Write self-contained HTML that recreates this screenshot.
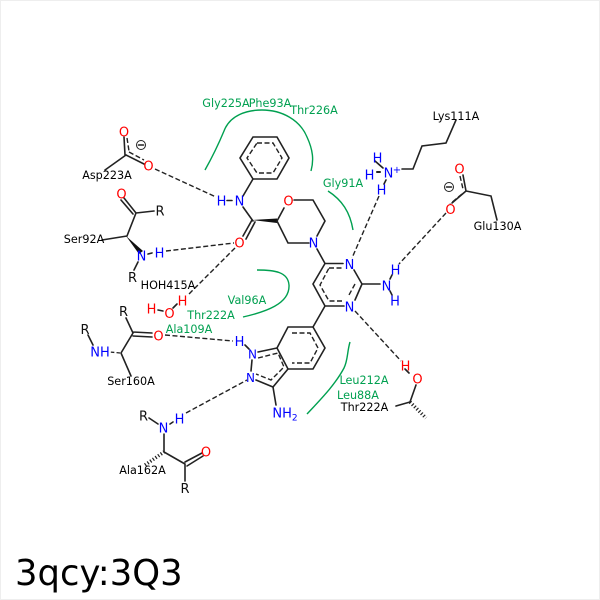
<!DOCTYPE html>
<html><head><meta charset="utf-8"><style>
html,body{margin:0;padding:0;background:#fff}
svg{display:block}
text{font-family:"DejaVu Sans",sans-serif;font-size:11.2px;text-anchor:middle}
.k{fill:#000}.g{fill:#00a050}.b{fill:#00f;font-size:13px}.r{fill:#f00;font-size:13px}.bl{fill:#111;font-size:13px}
.l{stroke:#222;stroke-width:1.6;fill:none;stroke-linecap:round}
.a{stroke:#222;stroke-width:1.4;fill:none;stroke-dasharray:5 2.5}
.h{stroke:#222;stroke-width:1.3;fill:none;stroke-dasharray:3.5 2.2}
.gr{stroke:#00a050;stroke-width:1.4;fill:none}
</style></head><body>
<svg width="600" height="600" viewBox="0 0 600 600" xmlns="http://www.w3.org/2000/svg">
<rect x="0.5" y="0.5" width="599" height="599" fill="#fff" stroke="#eee"/>

<!-- green arcs -->
<path class="gr" d="M205 170C214 154 219 143 224 131C230 115 247 110 262 110C282 110 300 120 307 137C313 150 314 160 311 171"/>
<path class="gr" d="M328 191C342 200 350 212 353 230"/>
<path class="gr" d="M257 270C275 270 288 272 289 285C290 304 265 312 243 317"/>
<path class="gr" d="M350 342C347 352 348 360 344 368C335 385 320 400 307 414"/>

<!-- phenyl -->
<path class="l" d="M253 137H277L289 158L277 179H253L240 158Z"/>
<path class="a" d="M257 143H273L282 158L273 173H257L247 158Z"/>
<path class="l" d="M253 179L243 196"/>
<path class="l" d="M243 207L253 221"/>
<path d="M252 220L277 218.500V223Z" fill="#111"/>
<path class="l" d="M252 220L243 236M255 222L246 239"/>
<!-- morpholine -->
<path class="l" d="M277 221L284 208M294 200H313L325 221L317 236M309 243H288L277 221"/>
<!-- pyrimidine -->
<path class="l" d="M317 249L325 263.500H343M354 270L362 284L355 300M344 306H325L313 284L325 263.500M325 306L313 327M362 284H380"/>
<path class="a" d="M329 268H344M355 284L349 295M342 301H329L320 285L329 268"/>
<!-- NH2 bonds -->
<path class="l" d="M390 279L392 275M390 291L392 295"/>
<!-- indazole benzene -->
<path class="l" d="M288 327H313L325 348L313 369H288L277 348Z"/>
<path class="a" d="M292 333H310L318 348L310 363H292"/>
<path class="l" d="M277 348L258 352M288 369L273 387L256 380M252 360L251 371"/>
<path class="a" d="M258 358L278 353L284 367L271 380L256 374"/>
<path class="l" d="M273 387L276 405M245 345L249 349"/>
<!-- Asp -->
<path class="l" d="M105 170L126 155M126 155L144 164"/>
<path class="a" d="M127 138L129 151M129 152L144 160"/>
<path class="l" d="M124 137L125 155"/>
<!-- Ser92 -->
<path class="l" d="M124 198L136 213M121 200L133 214M136 213L154 211M136 213L127 236M102 240L127 236M138 262L134 270"/>
<path d="M126 236L143 251L139 254Z" fill="#111"/>
<!-- Water -->
<path class="l" d="M158 310L163 311M173 308L177 304"/>
<!-- Ser160 -->
<path class="l" d="M126 318L133 333L121 353L131 376M133 332L152 333M133 336L152 337M88 335L93 345"/>
<path class="h" d="M120 353L110 352"/>
<!-- Ala162 -->
<path class="l" d="M149 418L158 424M164 434V452L185 464M185 464V481M185 462L202 453M187 466L203 456M170 424L173 422"/>
<!-- Lys -->
<path class="l" d="M402 169H413L422 146L446 143L456 120M375 161L383 168M386 180L384 184"/>
<path class="l" d="M377 172L380 172" style="stroke-width:2"/>
<!-- Glu -->
<path class="l" d="M463 175L466 191L491 196L497 220M466 191L452 203"/>
<path class="a" d="M460 176L463 189M462 194L450 204"/>
<!-- Thr -->
<path class="l" d="M396 406L410 402L416 385M409 373L405 369"/>
<path class="h" d="M410 402L426 418" style="stroke-width:3.500;stroke-dasharray:1.200 2"/>
<path class="l" d="M227 200.500H232"/>
<path class="l" d="M152 253L148 254"/>
<path class="h" d="M145 465L164 452" style="stroke-width:3.500;stroke-dasharray:1.200 2"/>

<!-- H-bonds -->
<path class="a" d="M155 169L216 197"/>
<path class="a" d="M166 251L234 243"/>
<path class="a" d="M235 248L188 295"/>
<path class="a" d="M165 335L233 341"/>
<path class="a" d="M186 413L247 380"/>
<path class="a" d="M379 196L352 258"/>
<path class="a" d="M446 213L399 264"/>
<path class="a" d="M355 311L401 361"/>

<!-- atoms -->
<g>
<text class="b" x="221.500" y="205.500">H</text><text class="b" x="239.500" y="205.500">N</text>
<text class="r" x="288.500" y="205.500">O</text><text class="r" x="239.500" y="247.500">O</text>
<text class="b" x="313.500" y="247.500">N</text><text class="b" x="349.500" y="269">N</text><text class="b" x="349.500" y="311.500">N</text>
<text class="b" x="386.500" y="290.500">N</text><text class="b" x="395.500" y="274.500">H</text><text class="b" x="395" y="305.500">H</text>
<text class="b" x="388.500" y="177.500">N</text><text class="b" x="377.500" y="162.500">H</text><text class="b" x="369.500" y="179.500">H</text><text class="b" x="381.500" y="194.500">H</text>
<text class="b" x="397" y="173" style="font-size:10px">+</text>
<text class="r" x="124" y="136.500">O</text><text class="r" x="148.500" y="170.500">O</text>
<text class="r" x="121.500" y="198.500">O</text><text class="bl" x="160" y="215.500">R</text>
<text class="b" x="141.500" y="260.500">N</text><text class="b" x="159.500" y="257.500">H</text><text class="bl" x="132.500" y="282">R</text>
<text class="r" x="169.500" y="318">O</text><text class="r" x="151.500" y="313.500">H</text><text class="r" x="182.500" y="305.500">H</text>
<text class="bl" x="123.500" y="316">R</text><text class="r" x="158.500" y="340.500">O</text>
<text class="bl" x="85" y="334">R</text><text class="b" x="100" y="356.500">NH</text>
<text class="b" x="239.500" y="346">H</text><text class="b" x="252.500" y="358.500" style="font-size:12px">N</text><text class="b" x="250.500" y="382" style="font-size:12px">N</text>
<text class="b" x="285" y="417.500">NH<tspan dy="3" style="font-size:9px">2</tspan></text>
<text class="bl" x="143.500" y="420.500">R</text><text class="b" x="163.500" y="432.500">N</text><text class="b" x="179.500" y="423.500">H</text>
<text class="r" x="206" y="456.500">O</text><text class="bl" x="185" y="493">R</text>
<text class="r" x="459.500" y="173.500">O</text><text class="r" x="450.500" y="214">O</text>
<text class="r" x="405.500" y="370.500">H</text><text class="r" x="417.500" y="383.500">O</text>
</g>
<!-- charges -->
<circle cx="141" cy="145" r="4.500" fill="none" stroke="#222"/><path class="l" d="M138.500 145H143.500"/>
<circle cx="449" cy="187" r="4.500" fill="none" stroke="#222"/><path class="l" d="M446.500 187H451.500"/>

<!-- residue labels -->
<text class="k" x="107" y="179">Asp223A</text>
<text class="k" x="84" y="243">Ser92A</text>
<text class="k" x="168" y="289">HOH415A</text>
<text class="k" x="131" y="385">Ser160A</text>
<text class="k" x="142.500" y="474">Ala162A</text>
<text class="k" x="456" y="120">Lys111A</text>
<text class="k" x="497.500" y="230">Glu130A</text>
<text class="k" x="364.500" y="411">Thr222A</text>
<text class="g" x="226" y="107">Gly225A</text>
<text class="g" x="270" y="107">Phe93A</text>
<text class="g" x="314" y="114">Thr226A</text>
<text class="g" x="343" y="187">Gly91A</text>
<text class="g" x="247" y="304">Val96A</text>
<text class="g" x="211" y="319">Thr222A</text>
<text class="g" x="189" y="333">Ala109A</text>
<text class="g" x="364" y="384">Leu212A</text>
<text class="g" x="358" y="399">Leu88A</text>
<text x="15" y="585" style="font-size:35.400px;text-anchor:start;fill:#000">3qcy:3Q3</text>
</svg>
</body></html>
